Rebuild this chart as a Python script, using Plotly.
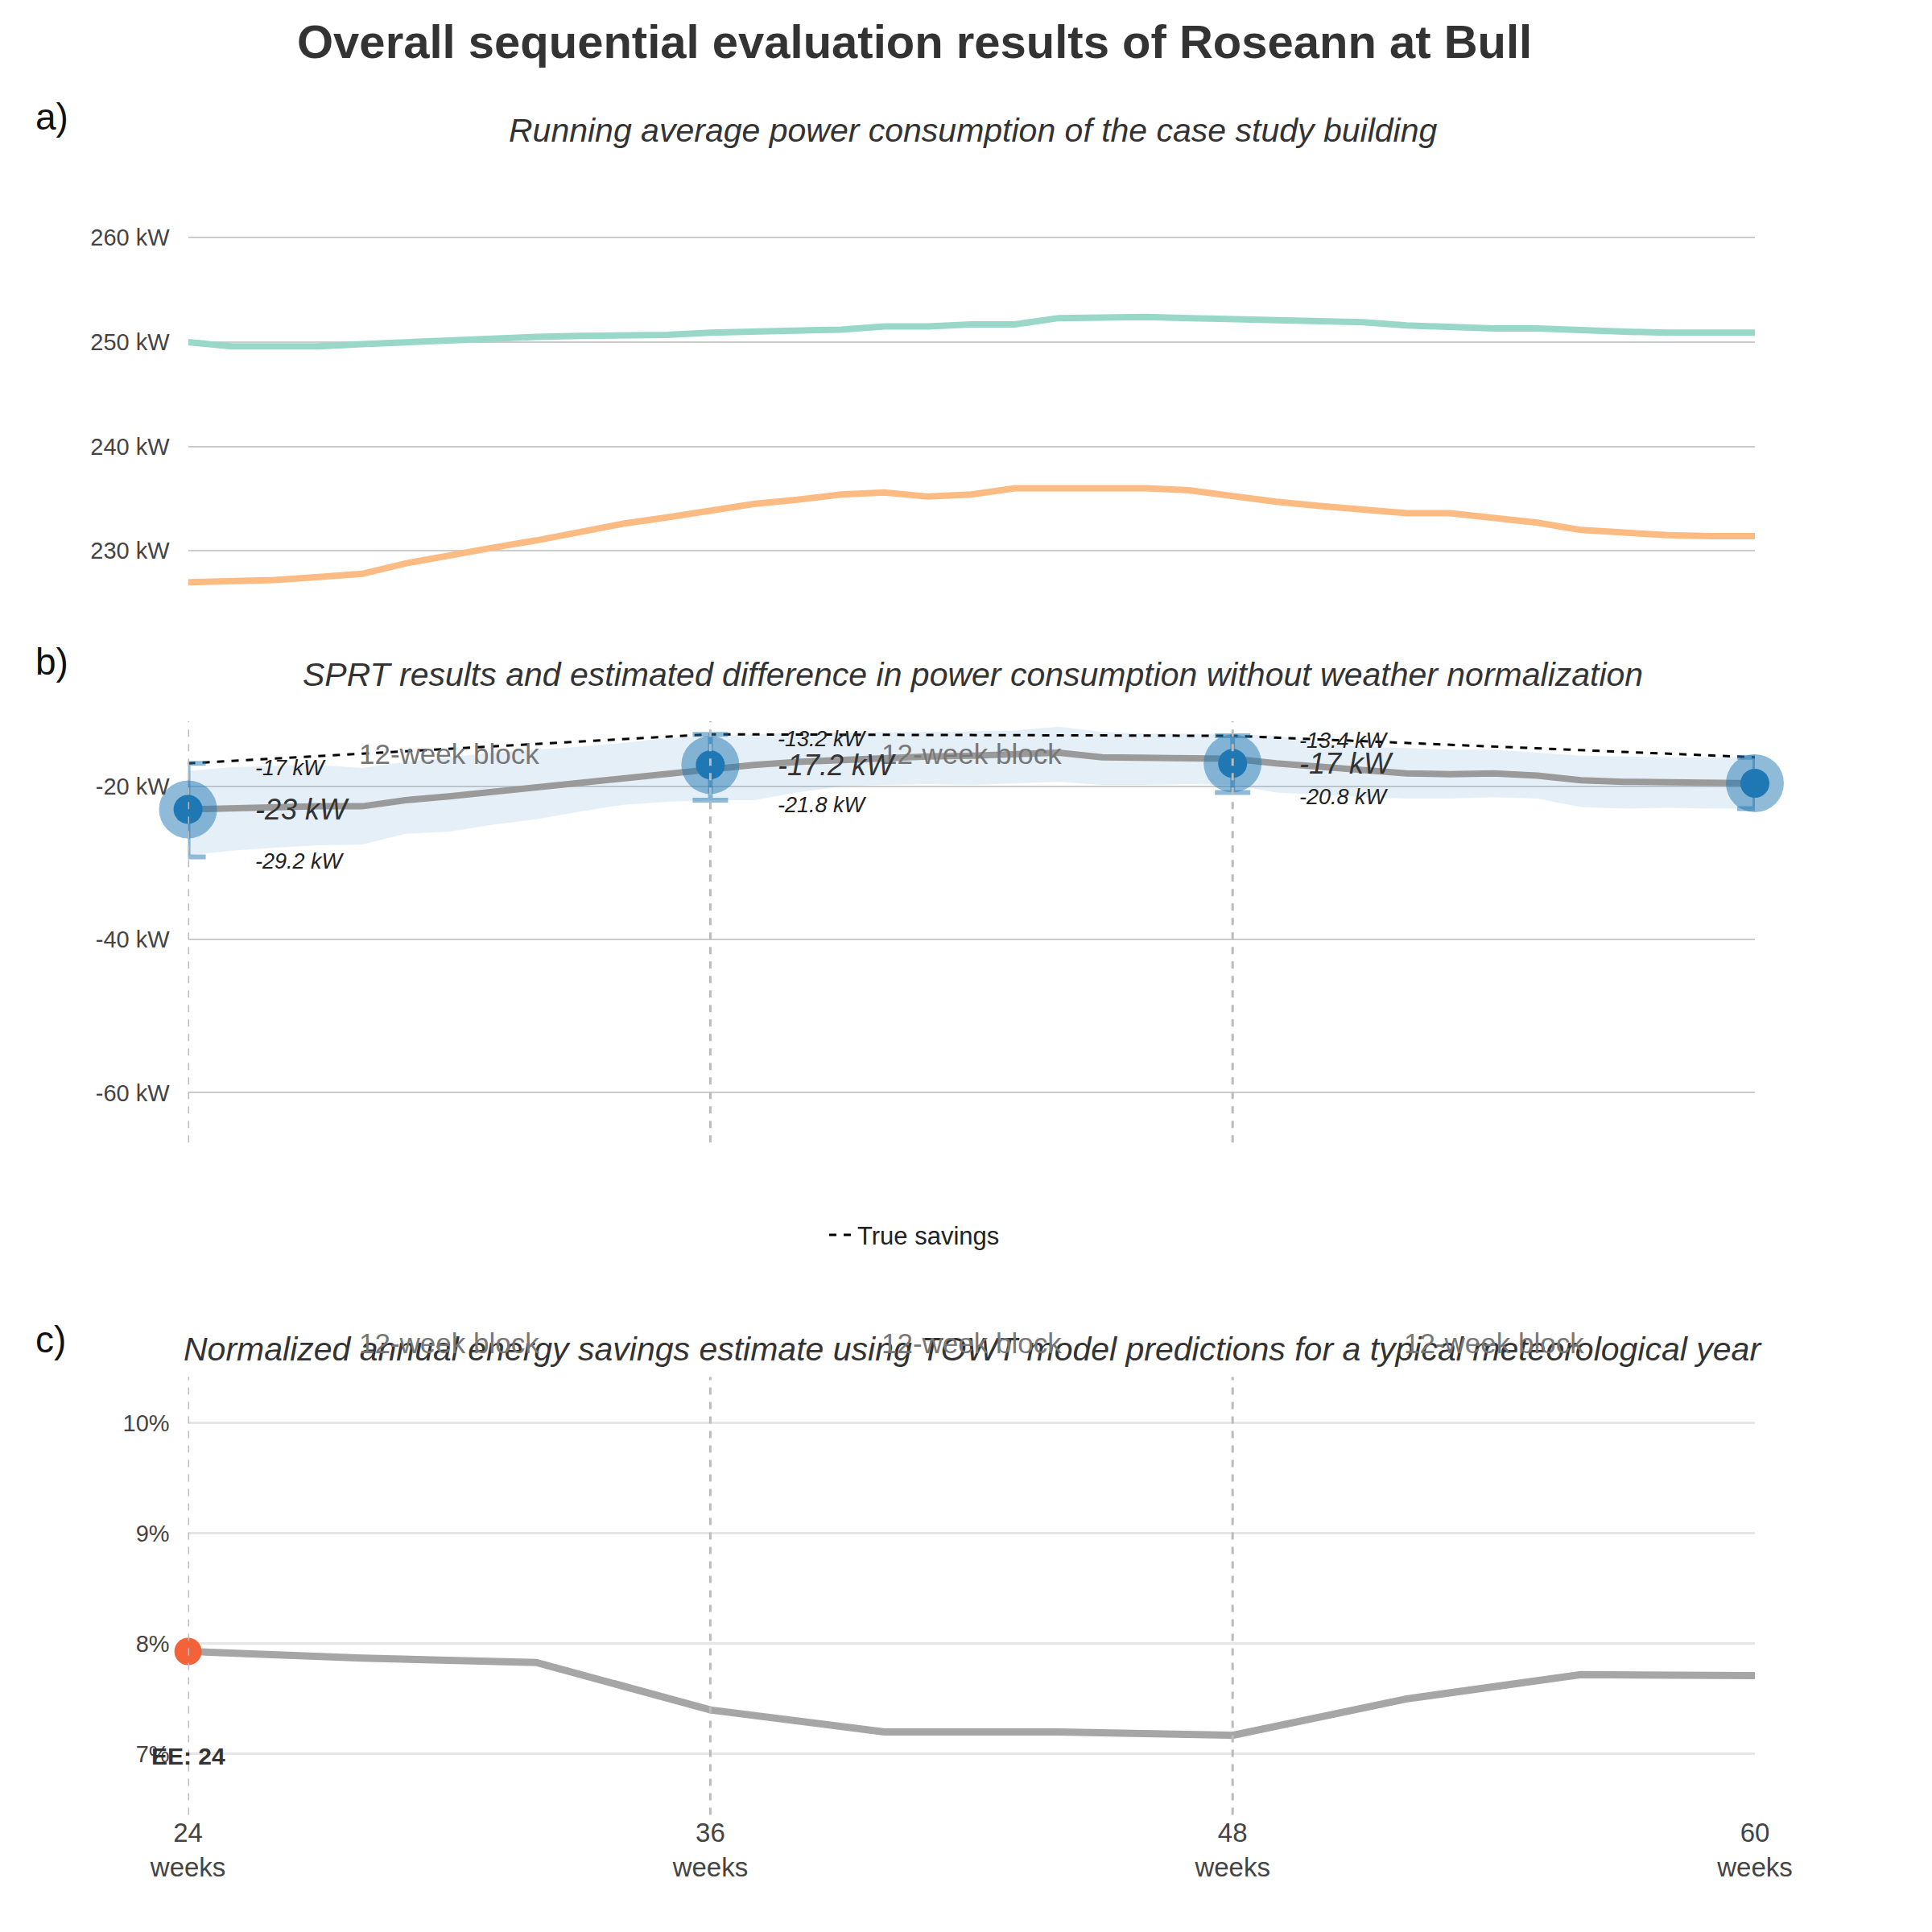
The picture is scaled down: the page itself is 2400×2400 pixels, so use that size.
import plotly.graph_objects as go

weeks = list(range(24, 61))
baseline = [250, 249.6, 249.6, 249.6, 249.8, 250, 250.2, 250.4, 250.5, 250.6, 250.6, 250.7, 250.9, 251, 251.2, 251.2,
            251.5, 251.5, 251.7, 251.7, 252.3, 252.4, 252.4, 252.3, 252.2, 252.1, 252, 251.9, 251.6, 251.4, 251.3,
            251.3, 251.1, 251, 250.9, 250.9, 250.9]
intervention = [227, 227.1, 227.2, 227.5, 227.8, 228.8, 229.6, 230.3, 231, 231.8, 232.6, 233.2, 233.8, 234.5, 234.9,
                235.4, 235.6, 235.2, 235.4, 236, 236, 236, 236, 235.8, 235.2, 234.7, 234.3, 234, 233.6, 233.6, 233.2,
                232.7, 232, 231.7, 231.5, 231.4, 231.4]
diff_est = [-23, -22.8, -22.7, -22.6, -22.6, -21.8, -21.3, -20.7, -20.2, -19.6, -18.9, -18.2, -17.6, -17.2, -16.8,
            -16.5, -16.2, -16.1, -16.0, -15.8, -15.6, -16.2, -16.3, -16.3, -16.4, -17.0, -17.5, -17.9, -18.3, -18.4,
            -18.3, -18.6, -19.2, -19.4, -19.5, -19.6, -19.6]
diff_hi = [-18, -17.5, -17.3, -17.2, -17.6, -16.8, -16.2, -15.6, -15.2, -14.8, -14.3, -13.7, -13.4, -13.2, -13.0,
           -13.0, -12.9, -12.9, -12.8, -12.7, -12.2, -12.9, -13.1, -13.1, -13.2, -13.4, -14.3, -14.8, -15.0, -15.2,
           -15.2, -15.6, -16.0, -16.1, -16.2, -16.2, -16.2]
diff_lo = [-29, -28.4, -28.0, -27.7, -27.6, -26.2, -25.9, -25.0, -24.3, -23.3, -22.4, -22.0, -21.8, -21.8, -20.8,
           -20.0, -19.8, -19.7, -19.8, -19.6, -19.4, -19.8, -19.8, -19.7, -19.8, -20.8, -21.1, -21.4, -21.6, -21.6,
           -21.4, -21.6, -22.7, -22.9, -22.8, -22.9, -22.9]
true_weeks = [24, 36, 48, 60]
true_savings = [-17, -13.2, -13.4, -16.2]
sprt_weeks = [24, 36, 48, 60]
sprt_est = [-23, -17.2, -17, -19.6]
sprt_hi = [-17, -13.2, -13.4, -16.2]
sprt_lo = [-29.2, -21.8, -20.8, -22.9]
norm_weeks = [24, 28, 32, 36, 40, 44, 48, 52, 56, 60]
norm_savings = [7.93, 7.87, 7.83, 7.4, 7.2, 7.2, 7.17, 7.5, 7.72, 7.71]
block_mid = [30, 42, 54]
block_edges = [24, 36, 48]
tick_vals = [24, 36, 48, 60]
tick_text = ["24<br>weeks", "36<br>weeks", "48<br>weeks", "60<br>weeks"]

FONT = "Liberation Sans, Arial, sans-serif"
fig = go.Figure()

fig.add_trace(go.Scatter(x=weeks, y=baseline, mode="lines", line=dict(color="#99d8c9", width=8), xaxis="x", yaxis="y", showlegend=False))
fig.add_trace(go.Scatter(x=weeks, y=intervention, mode="lines", line=dict(color="#fdbb84", width=8), xaxis="x", yaxis="y", showlegend=False))

fig.add_trace(go.Scatter(x=weeks, y=diff_hi, mode="lines", line=dict(width=0), xaxis="x2", yaxis="y2", showlegend=False, hoverinfo="skip"))
fig.add_trace(go.Scatter(x=weeks, y=diff_lo, mode="lines", line=dict(width=0), fill="tonexty", fillcolor="rgba(100,160,210,0.17)", xaxis="x2", yaxis="y2", showlegend=False, hoverinfo="skip"))
fig.add_trace(go.Scatter(x=weeks, y=diff_est, mode="lines", line=dict(color="#9a9a9a", width=8), xaxis="x2", yaxis="y2", showlegend=False))
fig.add_trace(go.Scatter(x=true_weeks, y=true_savings, mode="lines", line=dict(color="black", width=3, dash="dash"), xaxis="x2", yaxis="y2", name="True savings", showlegend=True))
fig.add_trace(go.Scatter(x=sprt_weeks, y=sprt_est, mode="markers", marker=dict(size=72, color="rgba(31,119,180,0.5)"), xaxis="x2", yaxis="y2", showlegend=False, cliponaxis=False,
                         error_y=dict(type="data", symmetric=False,
                                      array=[h - e for h, e in zip(sprt_hi, sprt_est)],
                                      arrayminus=[e - l for e, l in zip(sprt_est, sprt_lo)],
                                      color="rgba(31,119,180,0.5)", thickness=6, width=22)))
fig.add_trace(go.Scatter(x=sprt_weeks, y=sprt_est, mode="markers", marker=dict(size=36, color="#1f77b4"), xaxis="x2", yaxis="y2", showlegend=False, cliponaxis=False))

fig.add_trace(go.Scatter(x=norm_weeks, y=norm_savings, mode="lines", line=dict(color="#a6a6a6", width=9), xaxis="x3", yaxis="y3", showlegend=False))
fig.add_trace(go.Scatter(x=[norm_weeks[0]], y=[norm_savings[0]], mode="markers", marker=dict(size=34, color="#f4623a"), xaxis="x3", yaxis="y3", showlegend=False, cliponaxis=False))

shapes = []
for w in block_edges:
    shapes.append(dict(type="line", xref="x2", yref="y2 domain", x0=w, x1=w, y0=0, y1=1, line=dict(color="#bbbbbb", width=3, dash="dash")))
    shapes.append(dict(type="line", xref="x3", yref="y3 domain", x0=w, x1=w, y0=0, y1=1.03, line=dict(color="#bbbbbb", width=3, dash="dash")))

ann = []
def A(text, x, y, xref, yref, size=26, color="#444", xanchor="center", yanchor="middle", italic=False, bold=False):
    t = text
    if italic: t = "<i>" + t + "</i>"
    if bold: t = "<b>" + t + "</b>"
    ann.append(dict(text=t, x=x, y=y, xref=xref, yref=yref, showarrow=False, font=dict(size=size, color=color, family=FONT), xanchor=xanchor, yanchor=yanchor))

A("Overall sequential evaluation results of Roseann at Bull", 0.47, 0.982, "paper", "paper", size=58, color="#333", bold=True)
A("a)", 0.014, 0.943, "paper", "paper", size=46, color="#111", xanchor="left")
A("b)", 0.014, 0.661, "paper", "paper", size=46, color="#111", xanchor="left")
A("c)", 0.014, 0.31, "paper", "paper", size=46, color="#111", xanchor="left")
A("Running average power consumption of the case study building", 0.5, 0.936, "paper", "paper", size=41, color="#333", italic=True)
A("SPRT results and estimated difference in power consumption without weather normalization", 0.5, 0.654, "paper", "paper", size=41, color="#333", italic=True)
A("Normalized annual energy savings estimate using TOWT model predictions for a typical meteorological year", 0.5, 0.305, "paper", "paper", size=41, color="#333", italic=True)
A("Baseline", 60.3, baseline[-1], "x", "y", size=34, color="#99d8c9", xanchor="left")
A("Intervention", 60.3, intervention[-1], "x", "y", size=34, color="#fdbb84", xanchor="left")
for m in block_mid[:2]:
    A("12-week block", m, -15.8, "x2", "y2", size=35, color="#777")
for m in block_mid:
    A("12-week block", m, 1.11, "x3", "y3 domain", size=35, color="#777")
for i, w in enumerate(sprt_weeks):
    last = i == len(sprt_weeks) - 1
    dx = 0.5 if last else 1.5
    A("%g kW" % sprt_est[i], w + dx, sprt_est[i], "x2", "y2", size=36, color="#333", xanchor="left", italic=not last)
    A("%g kW" % sprt_hi[i], w + dx, sprt_hi[i] - 0.6, "x2", "y2", size=27, color="#222", xanchor="left", italic=not last)
    A("%g kW" % sprt_lo[i], w + dx, sprt_lo[i] - 0.6, "x2", "y2", size=27, color="#222", xanchor="left", italic=not last)
A("8%", 60.5, norm_savings[-1], "x3", "y3", size=33, color="#333", xanchor="left")
A("EE: 24", 24, 6.98, "x3", "y3", size=30, color="#333", bold=True)

ax = dict(range=[24, 60], domain=[0.094, 0.905], showgrid=False, zeroline=False, showline=False, automargin=False)
yax = dict(zeroline=False, ticks="", ticklabelstandoff=22, automargin=False, tickfont=dict(size=29, color="#444"))
fig.update_layout(
    width=2400, height=2400, plot_bgcolor="white", paper_bgcolor="white",
    font=dict(family=FONT, size=29, color="#444"),
    margin=dict(l=0, r=0, t=0, b=0),
    xaxis=dict(**ax, anchor="y", showticklabels=False),
    yaxis=dict(**yax, domain=[0.675, 0.91], range=[222, 265.5], tickvals=[230, 240, 250, 260], ticktext=["230 kW", "240 kW", "250 kW", "260 kW"], gridcolor="#cccccc", gridwidth=2),
    xaxis2=dict(**ax, anchor="y2", showticklabels=False),
    yaxis2=dict(**yax, domain=[0.412, 0.63], range=[-66.5, -11.5], tickvals=[-60, -40, -20], ticktext=["-60 kW", "-40 kW", "-20 kW"], gridcolor="#cccccc", gridwidth=2),
    xaxis3=dict(**ax, anchor="y3", tickvals=tick_vals, ticktext=tick_text, tickfont=dict(size=33, color="#444")),
    yaxis3=dict(**yax, domain=[0.064, 0.284], range=[6.45, 10.3], tickvals=[7, 8, 9, 10], ticktext=["7%", "8%", "9%", "10%"], gridcolor="#e6e6e6", gridwidth=3),
    legend=dict(x=0.47, y=0.364, xanchor="center", yanchor="middle", orientation="h", font=dict(size=31, color="#222")),
    shapes=shapes, annotations=ann,
)
fig.write_html("out.html")
